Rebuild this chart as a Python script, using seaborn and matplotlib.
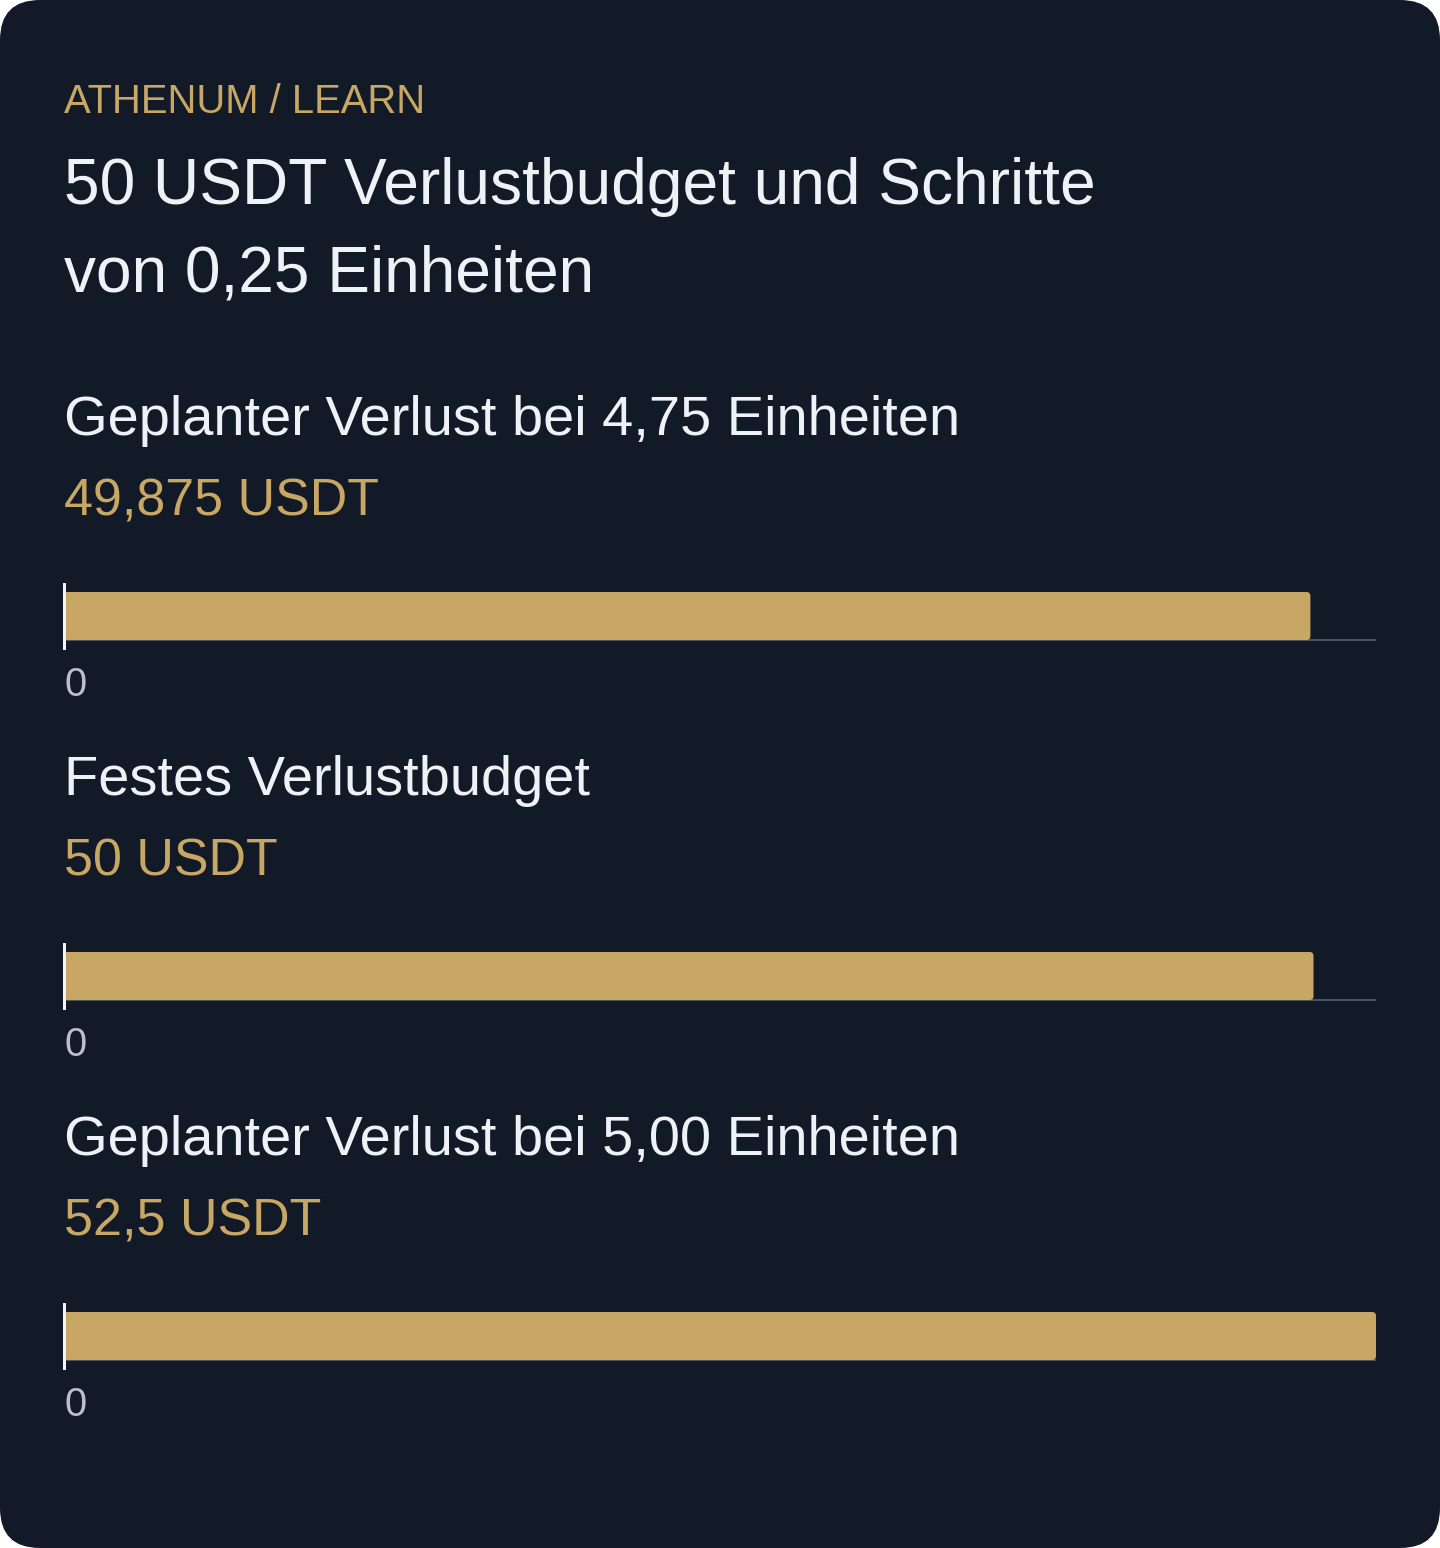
import matplotlib
matplotlib.use("Agg")
import matplotlib.pyplot as plt
from matplotlib.patches import FancyBboxPatch
from matplotlib.transforms import IdentityTransform
import seaborn as sns
import pandas as pd

# ---- data ----
kicker = "ATHENUM / LEARN"
title_lines = ["50 USDT Verlustbudget und Schritte", "von 0,25 Einheiten"]
categories = ["Geplanter Verlust bei 4,75 Einheiten",
              "Festes Verlustbudget",
              "Geplanter Verlust bei 5,00 Einheiten"]
values = [49.875, 50.0, 52.5]
value_labels = ["49,875 USDT", "50 USDT", "52,5 USDT"]
tick_values = [0]
tick_labels = ["0"]

# ---- style ----
W, H = 1440, 1548
BG = "#131a27"
GOLD = "#c8a764"
WHITE = "#eef1f6"
GRAY = "#b9c0cb"
BASE = "#4a5463"
FONT = "Liberation Sans"

sns.set_theme(style="white")
plt.rcParams["font.family"] = [FONT, "DejaVu Sans"]

fig = plt.figure(figsize=(W / 100, H / 100), dpi=100)
fig.patch.set_facecolor("white")
card = FancyBboxPatch((0, 0), W, H, boxstyle="round,pad=0,rounding_size=40",
                      transform=IdentityTransform(), facecolor=BG,
                      edgecolor="none", zorder=-10)
fig.patches.append(card)


def px(x, y):
    return x / W, 1 - y / H


def ptx(p):
    return p * 0.72


fig.text(*px(64, 113), kicker, color=GOLD, fontsize=ptx(40), va="baseline", ha="left")
fig.text(*px(64, 204), title_lines[0], color=WHITE, fontsize=ptx(64), va="baseline", ha="left")
fig.text(*px(64, 292), title_lines[1], color=WHITE, fontsize=ptx(64), va="baseline", ha="left")

x_max = max(values)
AX_W, AX_H = 1312, 64
for i, (cat, val, vlab) in enumerate(zip(categories, values, value_labels)):
    off = 360 * i
    fig.text(*px(64, 435 + off), cat, color=WHITE, fontsize=ptx(56), va="baseline", ha="left")
    fig.text(*px(64, 515 + off), vlab, color=GOLD, fontsize=ptx(52), va="baseline", ha="left")

    top = 584 + off
    left, bottom = px(64, top + AX_H)
    ax = fig.add_axes([left, bottom, AX_W / W, AX_H / H])
    ax.set_facecolor("none")
    df = pd.DataFrame({"cat": [cat], "val": [val]})
    sns.barplot(data=df, x="val", y="cat", orient="h", color=GOLD, width=0.75,
                saturation=1, ax=ax, zorder=3)
    ax.set_xlim(0, x_max)
    ax.set_ylim(0.5, -0.5)
    # round the bar ends slightly (same extents as the seaborn bar)
    xu = x_max / AX_W          # data units per pixel along x
    yu = 1.0 / AX_H            # data units per pixel along y
    for p in list(ax.patches):
        x0, y0 = p.get_x(), p.get_y()
        w, h = p.get_width(), p.get_height()
        rb = FancyBboxPatch((x0, y0), w, h,
                            boxstyle=f"round,pad=0,rounding_size={4 * xu}",
                            mutation_aspect=yu / xu,
                            facecolor=p.get_facecolor(), edgecolor="none",
                            zorder=3)
        p.set_visible(False)
        ax.add_patch(rb)
    ax.axhline(0.375, color=BASE, lw=1.4, zorder=2)
    ax.set_xlabel("")
    ax.set_ylabel("")
    ax.set_yticks([])
    ax.set_xticks(tick_values)
    ax.set_xticklabels(tick_labels)
    for lab in ax.get_xticklabels():
        lab.set_horizontalalignment("left")
        lab.set_color(GRAY)
        lab.set_fontsize(ptx(40))
    ax.tick_params(axis="x", length=0, pad=ptx(18))
    for s in ["top", "right", "bottom"]:
        ax.spines[s].set_visible(False)
    ax.spines["left"].set_color("#f2f4f8")
    ax.spines["left"].set_linewidth(ptx(3))
    ax.spines["left"].set_zorder(5)

fig.savefig("out.png", dpi=100, facecolor=fig.get_facecolor())
